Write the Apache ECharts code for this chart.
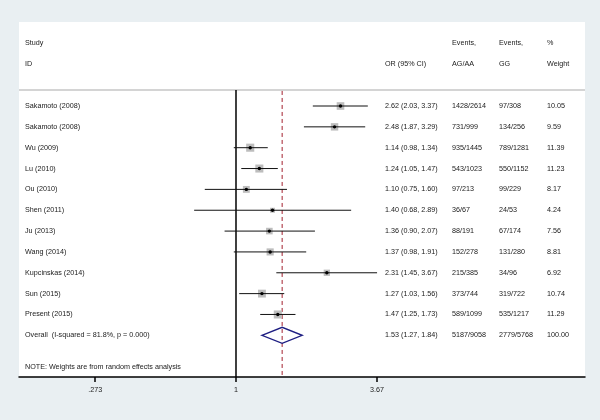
<!DOCTYPE html>
<html>
<head>
<meta charset="utf-8">
<script src="https://cdn.jsdelivr.net/npm/echarts@6/dist/echarts.min.js"></script>
<style>html,body{margin:0;padding:0;background:#e9eff2;}#c{width:600px;height:420px;}</style>
</head>
<body>
<div id="c"></div>
<script>
const studies = ['Sakamoto (2008)','Sakamoto (2008)','Wu (2009)','Lu (2010)','Ou (2010)','Shen (2011)','Ju (2013)','Wang (2014)','Kupcinskas (2014)','Sun (2015)','Present (2015)'];
const orVals = [2.62,2.48,1.14,1.24,1.10,1.40,1.36,1.37,2.31,1.27,1.47];
const ciLow  = [2.03,1.87,0.98,1.05,0.75,0.68,0.90,0.98,1.45,1.03,1.25];
const ciHigh = [3.37,3.29,1.34,1.47,1.60,2.89,2.07,1.91,3.67,1.56,1.73];
const eventsAG = ['1428/2614','731/999','935/1445','543/1023','97/213','36/67','88/191','152/278','215/385','373/744','589/1099'];
const eventsGG = ['97/308','134/256','789/1281','550/1152','99/229','24/53','67/174','131/280','34/96','319/722','535/1217'];
const weights = [10.05,9.59,11.39,11.23,8.17,4.24,7.56,8.81,6.92,10.74,11.29];
const overallLabel = 'Overall  (I-squared = 81.8%, p = 0.000)';
const overallOR = 1.53, overallLow = 1.27, overallHigh = 1.84;
const overallAG = '5187/9058', overallGG = '2779/5768', overallWeight = 100.00;
const noteText = 'NOTE: Weights are from random effects analysis';
const tickValues = [0.273, 1, 3.67];
const tickLabels = ['.273', '1', '3.67'];

// layout (pixels / row units)
const colX = {study: 25, or: 385, ag: 452, gg: 499, w: 547};
const FONT = '7.2px "Liberation Sans", Arial, sans-serif';
const TXT = '#1a1a1a';

const fmt = (v,l,h) => v.toFixed(2)+' ('+l.toFixed(2)+', '+h.toFixed(2)+')';

// text rows: [row, col, text]
const textRows = [];
textRows.push([-3,'study','Study'],[-2,'study','ID'],[-2,'or','OR (95% CI)'],
  [-3,'ag','Events,'],[-2,'ag','AG/AA'],[-3,'gg','Events,'],[-2,'gg','GG'],[-3,'w','%'],[-2,'w','Weight']);
studies.forEach((s,i)=>{
  textRows.push([i,'study',s],[i,'or',fmt(orVals[i],ciLow[i],ciHigh[i])],[i,'ag',eventsAG[i]],[i,'gg',eventsGG[i]],[i,'w',weights[i].toFixed(2)]);
});
const ov = studies.length;
textRows.push([ov,'study',overallLabel],[ov,'or',fmt(overallOR,overallLow,overallHigh)],[ov,'ag',overallAG],[ov,'gg',overallGG],[ov,'w',overallWeight.toFixed(2)]);
textRows.push([ov+1.5,'study',noteText]);

const chart = echarts.init(document.getElementById('c'), null, {renderer:'canvas'});
const lnTicks = tickValues.map(Math.log);

chart.setOption({
  backgroundColor: '#e9eff2',
  animation: false,
  grid: {left: 19, right: 15, top: 22, bottom: 43, show: true, backgroundColor: '#fff', borderWidth: 0},
  xAxis: {
    type: 'value', min: -2.0, max: 3.2166,
    axisLine: {show: true, onZero: false, lineStyle: {color: '#000', width: 1.5}},
    axisTick: {show: true, customValues: lnTicks, length: 5, lineStyle: {color: '#000', width: 1.5}},
    axisLabel: {show: true, customValues: lnTicks, color: TXT, fontSize: 7.2, fontFamily: '"Liberation Sans", Arial, sans-serif', margin: 10,
      formatter: v => { let k = 0, d = 1e9; lnTicks.forEach((t,j)=>{ if (Math.abs(t-v)<d){d=Math.abs(t-v);k=j;} }); return tickLabels[k]; }},
    splitLine: {show: false}
  },
  yAxis: {type: 'value', inverse: true, min: -4.03, max: 13.0, show: false},
  series: [
    {
      type: 'custom', clip: false, silent: true,
      data: [[0]],
      renderItem: (params, api) => {
        const top = api.coord([0, -0.77])[1];
        const bot = api.coord([0, 13.0])[1];
        const x1 = api.coord([0, 0])[0];
        const xo = api.coord([Math.log(overallOR), 0])[0];
        const left = params.coordSys.x, right = params.coordSys.x + params.coordSys.width;
        return {type: 'group', children: [
          {type: 'line', shape: {x1: left, y1: top, x2: right, y2: top}, style: {stroke: '#d4d4d4', lineWidth: 2}},
          {type: 'line', shape: {x1: x1, y1: top, x2: x1, y2: bot}, style: {stroke: '#000', lineWidth: 1.5}},
          {type: 'line', shape: {x1: xo, y1: top + 1, x2: xo, y2: bot}, style: {stroke: '#a3202e', lineWidth: 1, lineDash: [4, 3]}}
        ]};
      }
    },
    {
      type: 'custom', clip: false, silent: true, z: 3,
      data: studies.map((s,i)=>[Math.log(orVals[i]), i, Math.log(ciLow[i]), Math.log(ciHigh[i]), weights[i]]),
      renderItem: (params, api) => {
        const p = api.coord([api.value(0), api.value(1)]);
        const l = api.coord([api.value(2), api.value(1)]);
        const h = api.coord([api.value(3), api.value(1)]);
        const s = 2.4 * Math.sqrt(api.value(4));
        return {type: 'group', children: [
          {type: 'rect', shape: {x: p[0]-s/2, y: p[1]-s/2, width: s, height: s}, style: {fill: '#bdbdbd'}},
          {type: 'line', shape: {x1: l[0], y1: l[1], x2: h[0], y2: h[1]}, style: {stroke: '#111', lineWidth: 1}},
          {type: 'circle', shape: {cx: p[0], cy: p[1], r: 1.7}, style: {fill: '#000'}}
        ]};
      }
    },
    {
      type: 'custom', clip: false, silent: true, z: 3,
      data: [[Math.log(overallOR), studies.length, Math.log(overallLow), Math.log(overallHigh)]],
      renderItem: (params, api) => {
        const p = api.coord([api.value(0), api.value(1)]);
        const l = api.coord([api.value(2), api.value(1)]);
        const h = api.coord([api.value(3), api.value(1)]);
        return {type: 'polygon', shape: {points: [[l[0], p[1]], [p[0], p[1]-8], [h[0], p[1]], [p[0], p[1]+8]]},
          style: {fill: 'rgba(255,255,255,0)', stroke: '#1e1e82', lineWidth: 1.4}};
      }
    },
    {
      type: 'custom', clip: false, silent: true, z: 4,
      data: textRows.map(r=>[0, r[0]]),
      renderItem: (params, api) => {
        const r = textRows[params.dataIndex];
        const y = api.coord([0, api.value(1)])[1];
        return {type: 'text', x: colX[r[1]], y: y, style: {text: r[2], font: FONT, fill: TXT, textAlign: 'left', textVerticalAlign: 'middle'}};
      }
    }
  ]
});
</script>
</body>
</html>
